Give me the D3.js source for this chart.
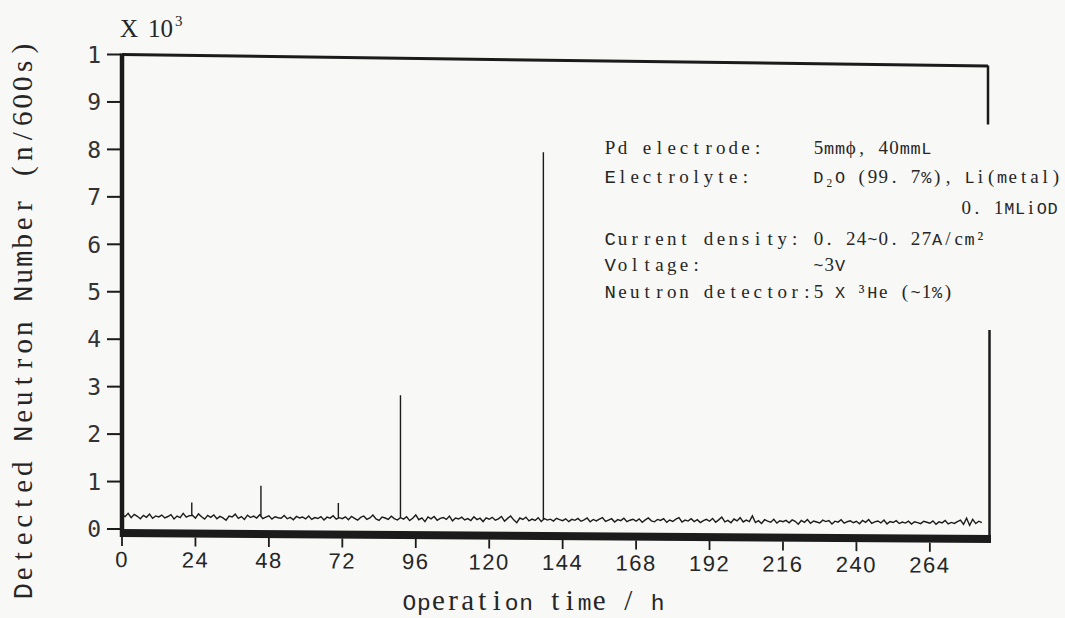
<!DOCTYPE html>
<html><head><meta charset="utf-8">
<script src="https://cdn.jsdelivr.net/npm/d3@7"></script>
<style>
html,body{margin:0;padding:0;background:#f8f8f7}
svg{display:block}
</style>
</head><body>
<svg id="chart" width="1065" height="618"></svg>
<script>
// ---- data (counts per 600 s, sampled every hour) ----
const baselineCounts = [
30,26,33,24,31,27,22,29,25,32,23,28,26,30,24,27,31,22,28,25,34,26,29,30,
24,33,27,22,30,26,31,23,28,25,20,29,27,33,24,28,22,31,26,29,25,32,24,27,
30,23,28,26,25,31,24,27,22,29,26,28,24,30,23,27,25,29,22,28,26,31,24,27,
25,29,23,30,26,22,28,31,24,27,33,25,22,29,27,24,31,26,23,28,25,30,22,27,
34,24,28,20,30,26,31,23,27,29,25,32,22,28,26,30,24,27,23,31,25,28,21,29,
26,30,24,27,32,22,28,33,25,19,29,26,31,23,27,24,30,22,28,25,27,23,29,26,
24,28,22,27,25,29,23,26,30,22,27,24,28,31,23,26,29,22,27,25,30,23,26,28,
24,29,22,27,31,25,23,28,26,30,22,27,24,29,32,23,27,25,30,24,28,22,26,29,
25,31,23,28,34,24,27,22,30,26,33,24,28,25,37,23,27,21,29,26,24,30,22,27,
25,28,23,29,26,20,28,24,30,22,27,25,23,29,26,28,21,27,25,30,23,26,28,24,
27,22,29,25,31,23,26,28,24,30,22,27,25,29,23,26,24,28,22,27,25,23,28,26,
24,29,22,27,25,30,23,26,24,28,31,22,35,20,33,24,29,26
];
const spikeHours  = [22.8, 45.4, 70.7, 91.0, 137.7];
const spikeCounts = [57, 93, 58, 286, 800];

const xTickValues = [0,24,48,72,96,120,144,168,192,216,240,264];
const yTickValues = [0,100,200,300,400,500,600,700,800,900,1000];
const yTickLabels = ["0","1","2","3","4","5","6","7","8","9","1"];

const noteLabels = ["Pd electrode:", "Electrolyte:", "", "Current density:", "Voltage:", "Neutron detector:"];
const noteValues = ["5mm\u03d5, 40mmL", "D\u2082O (99. 7%), Li(metal)", "0. 1MLiOD", "0. 24~0. 27A/cm\u00b2", "~3V", "5 X \u00b3He (~1%)"];

const yTitle = "Detected Neutron Number (n/600s)";
const xTitle = "Operation time / h";

// ---- build series ----
const hours = baselineCounts.map((_, i) => i);
let series = hours.map((h, i) => ({t: h, v: baselineCounts[i], o: 0}));
spikeHours.forEach((t, k) => {
  const i = Math.floor(t), f = t - i;
  const base = baselineCounts[i] * (1 - f) + baselineCounts[Math.min(i + 1, baselineCounts.length - 1)] * f;
  series.push({t: t, v: base, o: 1}, {t: t, v: spikeCounts[k], o: 2}, {t: t, v: base, o: 3});
});
series.sort((a, b) => a.t - b.t || a.o - b.o);

// ---- layout ----
const ink = "#1b1b1b";
const txt = "#262626";
const serif = "Liberation Serif, Times New Roman, serif";
const mono = "Liberation Mono, DejaVu Sans Mono, monospace";
const svg = d3.select("#chart");
const x = d3.scaleLinear().domain([0, 283]).range([0, 866]);
const y = d3.scaleLinear().domain([0, 1000]).range([529, 54.5]);

// typewriter-style text: each glyph centred in a fixed-pitch cell;
// glyphs too wide for the cell fall back to a monospace face that fits
const meas = svg.append("text").attr("x", -999).attr("y", -999);
function charWidth(ch, size, fam) {
  meas.attr("font-family", fam).attr("font-size", size).text(ch === " " ? "\u00a0" : ch);
  return meas.node().getComputedTextLength();
}
function typeText(parent, str, x0, y0, pitch, size) {
  const t = parent.append("text").attr("y", y0)
    .attr("font-family", serif).attr("font-size", size).attr("fill", txt)
    .attr("xml:space", "preserve").style("white-space", "pre");
  Array.from(str).forEach((c, i) => {
    let w = charWidth(c, size, serif);
    const sp = t.append("tspan").text(c);
    if (c !== " " && w > pitch * 0.94) {
      const ms = Math.min(size, pitch * 0.94 / 0.6);
      sp.attr("font-family", mono).attr("font-size", ms.toFixed(1));
      w = charWidth(c, ms, mono);
    }
    sp.attr("x", (x0 + i * pitch + (pitch - w) / 2).toFixed(2));
  });
  return t;
}

const g = svg.append("g").attr("transform", "translate(122,0) skewY(0.4)");

// data trace
g.append("path")
  .datum(series)
  .attr("fill", "none")
  .attr("stroke", ink)
  .attr("stroke-width", 1.4)
  .attr("stroke-linejoin", "miter")
  .attr("d", d3.line().x(d => x(d.t)).y(d => y(d.v)));

// frame
g.append("line").attr("x1", 0).attr("x2", 0).attr("y1", y(1000) - 1).attr("y2", y(0) + 8)
  .attr("stroke", ink).attr("stroke-width", 4.5);
g.append("line").attr("x1", 0).attr("x2", x(283)).attr("y1", y(1000)).attr("y2", y(1000) + 5.5)
  .attr("stroke", ink).attr("stroke-width", 3);
g.append("line").attr("x1", x(283)).attr("x2", x(283)).attr("y1", y(1000) + 5).attr("y2", y(865))
  .attr("stroke", ink).attr("stroke-width", 2.5);
g.append("line").attr("x1", x(283) + 1.5).attr("x2", x(283) + 1.5).attr("y1", y(432)).attr("y2", y(0) + 6)
  .attr("stroke", ink).attr("stroke-width", 2.5);
g.append("rect").attr("x", -2).attr("y", y(0)).attr("width", x(283) + 5).attr("height", 8)
  .attr("fill", ink);

// x ticks + labels
const xt = g.append("g").selectAll("g").data(xTickValues).join("g")
  .attr("transform", d => `translate(${x(d)},0)`);
xt.append("line").attr("y1", y(0) + 8).attr("y2", y(0) + 17).attr("stroke", ink).attr("stroke-width", 1.8);
xt.append("text").attr("y", 567).attr("text-anchor", "middle")
  .attr("font-family", "Liberation Sans, Arial, sans-serif").attr("font-size", 22)
  .attr("letter-spacing", 1.5).attr("fill", txt).text(d => d);

// y ticks + labels
const yt = svg.append("g").selectAll("g").data(yTickValues).join("g")
  .attr("transform", d => `translate(0,${y(d)})`);
yt.append("line").attr("x1", 107).attr("x2", 121).attr("stroke", ink).attr("stroke-width", 2);
yt.append("text").attr("x", 101).attr("dy", "0.36em").attr("text-anchor", "end")
  .attr("font-family", "DejaVu Sans Mono, monospace").attr("font-size", 23)
  .attr("fill", "#333").text((d, i) => yTickLabels[i]);

// "X 10^3"
const mult = svg.append("text").attr("x", 120).attr("y", 37)
  .attr("font-family", serif).attr("font-size", 25).attr("fill", txt);
mult.append("tspan").text("X");
mult.append("tspan").attr("dx", 10).text("10");
mult.append("tspan").attr("dy", -11).attr("dx", 2).attr("font-size", 15).text("3");

// axis titles
const yTitleG = svg.append("g").attr("transform", "translate(32,320) rotate(-90)");
typeText(yTitleG, yTitle, -280, 0, 17.5, 29);
typeText(svg, xTitle, 402, 610, 14.6, 29);

// annotation block
const noteY = [154, 183, 214, 245, 271, 298];
const note = svg.append("g");
noteLabels.forEach((t, i) => { if (t) typeText(note, t, 604, noteY[i], 12.3, 19); });
noteValues.forEach((t, i) => {
  const n = Array.from(t).length;
  const pitch = 10.8;
  const x0 = i === 2 ? 1058 - n * pitch : 813;
  typeText(note, t, x0, noteY[i], pitch, 19);
});
meas.remove();
</script>
</body></html>
